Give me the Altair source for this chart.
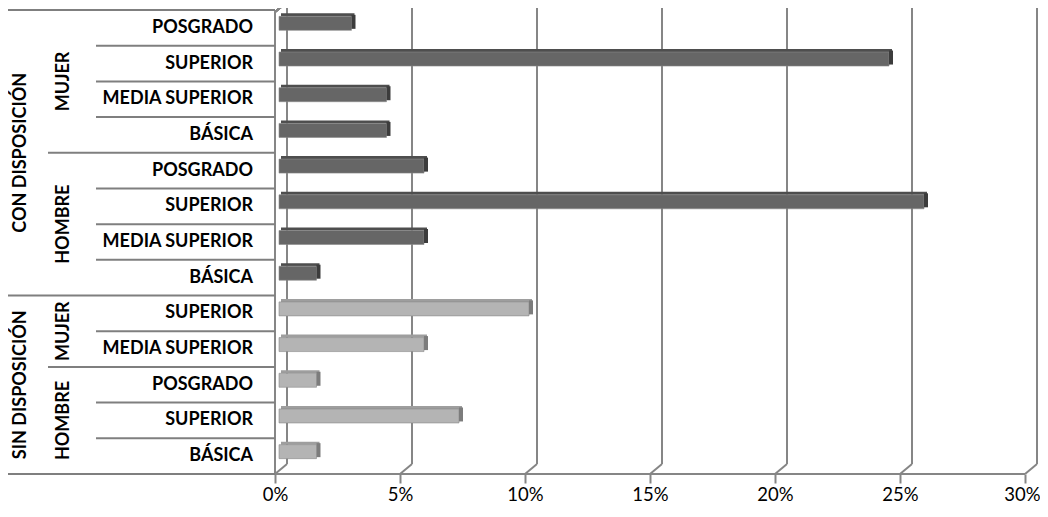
import altair as alt
import pandas as pd

# ---- data ----
disposicion = ["CON DISPOSICIÓN"] * 8 + ["SIN DISPOSICIÓN"] * 5
genero = ["MUJER"] * 4 + ["HOMBRE"] * 4 + ["MUJER"] * 2 + ["HOMBRE"] * 3
nivel = ["POSGRADO", "SUPERIOR", "MEDIA SUPERIOR", "BÁSICA",
         "POSGRADO", "SUPERIOR", "MEDIA SUPERIOR", "BÁSICA",
         "SUPERIOR", "MEDIA SUPERIOR",
         "POSGRADO", "SUPERIOR", "BÁSICA"]
valores = [2.9, 24.4, 4.3, 4.3, 5.8, 25.8, 5.8, 1.5, 10.0, 5.8, 1.5, 7.2, 1.5]
ticks = [0, 5, 10, 15, 20, 25, 30]

n = len(nivel)
rows = pd.DataFrame({
    "disp": disposicion, "gen": genero, "nivel": nivel, "valor": valores,
    "base": [0.0] * n,
    "c": [i + 0.5 for i in range(n)],
})

# boundaries of the multi-level category axis
b_nivel, b_gen = [], []
b_disp = [0, n]
for i in range(1, n):
    if disposicion[i] != disposicion[i - 1]:
        b_disp.append(i)
    elif genero[i] != genero[i - 1]:
        b_gen.append(i)
    else:
        b_nivel.append(i)

# group label centers
def groups(keys):
    out = []
    start = 0
    for i in range(1, n + 1):
        if i == n or keys[i] != keys[start]:
            out.append({"label": keys[start][-1], "c": (start + i) / 2})
            start = i
    return pd.DataFrame(out)

g_gen = groups([(d, g) for d, g in zip(disposicion, genero)])
g_disp = groups([(d,) for d in disposicion])

tick_df = pd.DataFrame({"t": ticks})

W, H = 750, 464
GRID = "#868686"
FONT = "Lato"

xscale = alt.Scale(domain=[0, 30], nice=False, zero=True)
yscale = alt.Scale(domain=[0, n], reverse=True, nice=False, zero=False)
xaxis = alt.Axis(values=ticks, labelExpr="datum.value + '%'", domain=False, grid=False,
                 ticks=True, tickSize=9, tickColor=GRID, tickWidth=2,
                 labelFont=FONT, labelFontSize=18.5, labelColor="black",
                 labelAlign={"expr": "datum.value == 30 ? 'right' : 'center'"},
                 labelOffset={"expr": "datum.value == 30 ? 15 : 0"},
                 labelPadding=2, title=None, labelFlush=False)

def X(field):
    return alt.X(field, type="quantitative", scale=xscale, axis=xaxis)

def Y(field):
    return alt.Y(field, type="quantitative", scale=yscale, axis=None)

dom = ["CON DISPOSICIÓN", "SIN DISPOSICIÓN"]
colors_face = alt.Scale(domain=dom, range=["#666666", "#b4b4b4"])
colors_top = alt.Scale(domain=dom, range=["#4e4e4e", "#9e9e9e"])
colors_side = alt.Scale(domain=dom, range=["#3c3c3c", "#7c7c7c"])

base_t = alt.Chart(tick_df)

back_grid = base_t.mark_rule(color=GRID, strokeWidth=2, xOffset=12).encode(
    x=X("t"), y=alt.value(-10), y2=alt.value(H - 10))
diag_grid = base_t.mark_rule(color=GRID, strokeWidth=2, x2Offset=12).encode(
    x=X("t"), x2=alt.X2("t"), y=alt.value(H), y2=alt.value(H - 10))

floor = alt.Chart(tick_df).mark_rule(color=GRID, strokeWidth=2).encode(
    x=alt.value(-270), x2=alt.value(W), y=alt.value(H))
front_left = alt.Chart(tick_df).mark_rule(color=GRID, strokeWidth=2).encode(
    x=alt.value(0), y=alt.value(2), y2=alt.value(H))
front_diag = alt.Chart(tick_df).mark_rule(color=GRID, strokeWidth=2).encode(
    x=alt.value(0), x2=alt.value(12), y=alt.value(2), y2=alt.value(-8))

def sep(bounds, x0):
    return alt.Chart(pd.DataFrame({"b": bounds})).mark_rule(color="#7f7f7f", strokeWidth=2).encode(
        y=Y("b"), x=alt.value(x0), x2=alt.value(0))

sep_nivel = sep(b_nivel, -179)
sep_gen = sep(b_gen, -227)
sep_disp = sep(b_disp, -270)

bars = alt.Chart(rows)
face = bars.mark_rect(xOffset=4, x2Offset=4, yOffset=-11.5, y2Offset=2.5,
                      stroke="#8a8a8a", strokeWidth=0.6).encode(
    x=X("base"), x2="valor:Q",
    y=Y("c"), y2="c:Q",
    fill=alt.Fill("disp:N", scale=colors_face, legend=None))
top = bars.mark_rect(xOffset=6, x2Offset=7, yOffset=-14.5, y2Offset=-11.5).encode(
    x=X("base"), x2="valor:Q",
    y=Y("c"), y2="c:Q",
    fill=alt.Fill("disp:N", scale=colors_top, legend=None))
side = bars.mark_rect(xOffset=4, x2Offset=8, yOffset=-13, y2Offset=1).encode(
    x=X("valor"), x2="valor:Q",
    y=Y("c"), y2="c:Q",
    fill=alt.Fill("disp:N", scale=colors_side, legend=None))

lab_nivel = bars.mark_text(align="right", baseline="middle", font=FONT, fontWeight="bold",
                           fontSize=18, color="black").encode(
    x=alt.value(-22), y=Y("c"), text="nivel:N")
lab_gen = alt.Chart(g_gen).mark_text(align="center", baseline="middle", angle=270, font=FONT,
                                     fontWeight="bold", fontSize=18, color="black").encode(
    x=alt.value(-211), y=Y("c"), text="label:N")
lab_disp = alt.Chart(g_disp).mark_text(align="center", baseline="middle", angle=270, font=FONT,
                                       fontWeight="bold", fontSize=18, color="black").encode(
    x=alt.value(-254), y=Y("c"), text="label:N")

chart = alt.layer(
    back_grid, diag_grid, floor, front_left, front_diag,
    sep_nivel, sep_gen, sep_disp,
    top, face, side,
    lab_nivel, lab_gen, lab_disp,
).resolve_scale(fill="independent").properties(
    width=W, height=H,
    autosize=alt.AutoSizeParams(type="none"),
    padding={"left": 267, "top": 2, "right": 15, "bottom": 30},
    background="white",
).configure_view(stroke=None)

chart.save("out.html", embed_options={"renderer": "svg", "actions": False})
